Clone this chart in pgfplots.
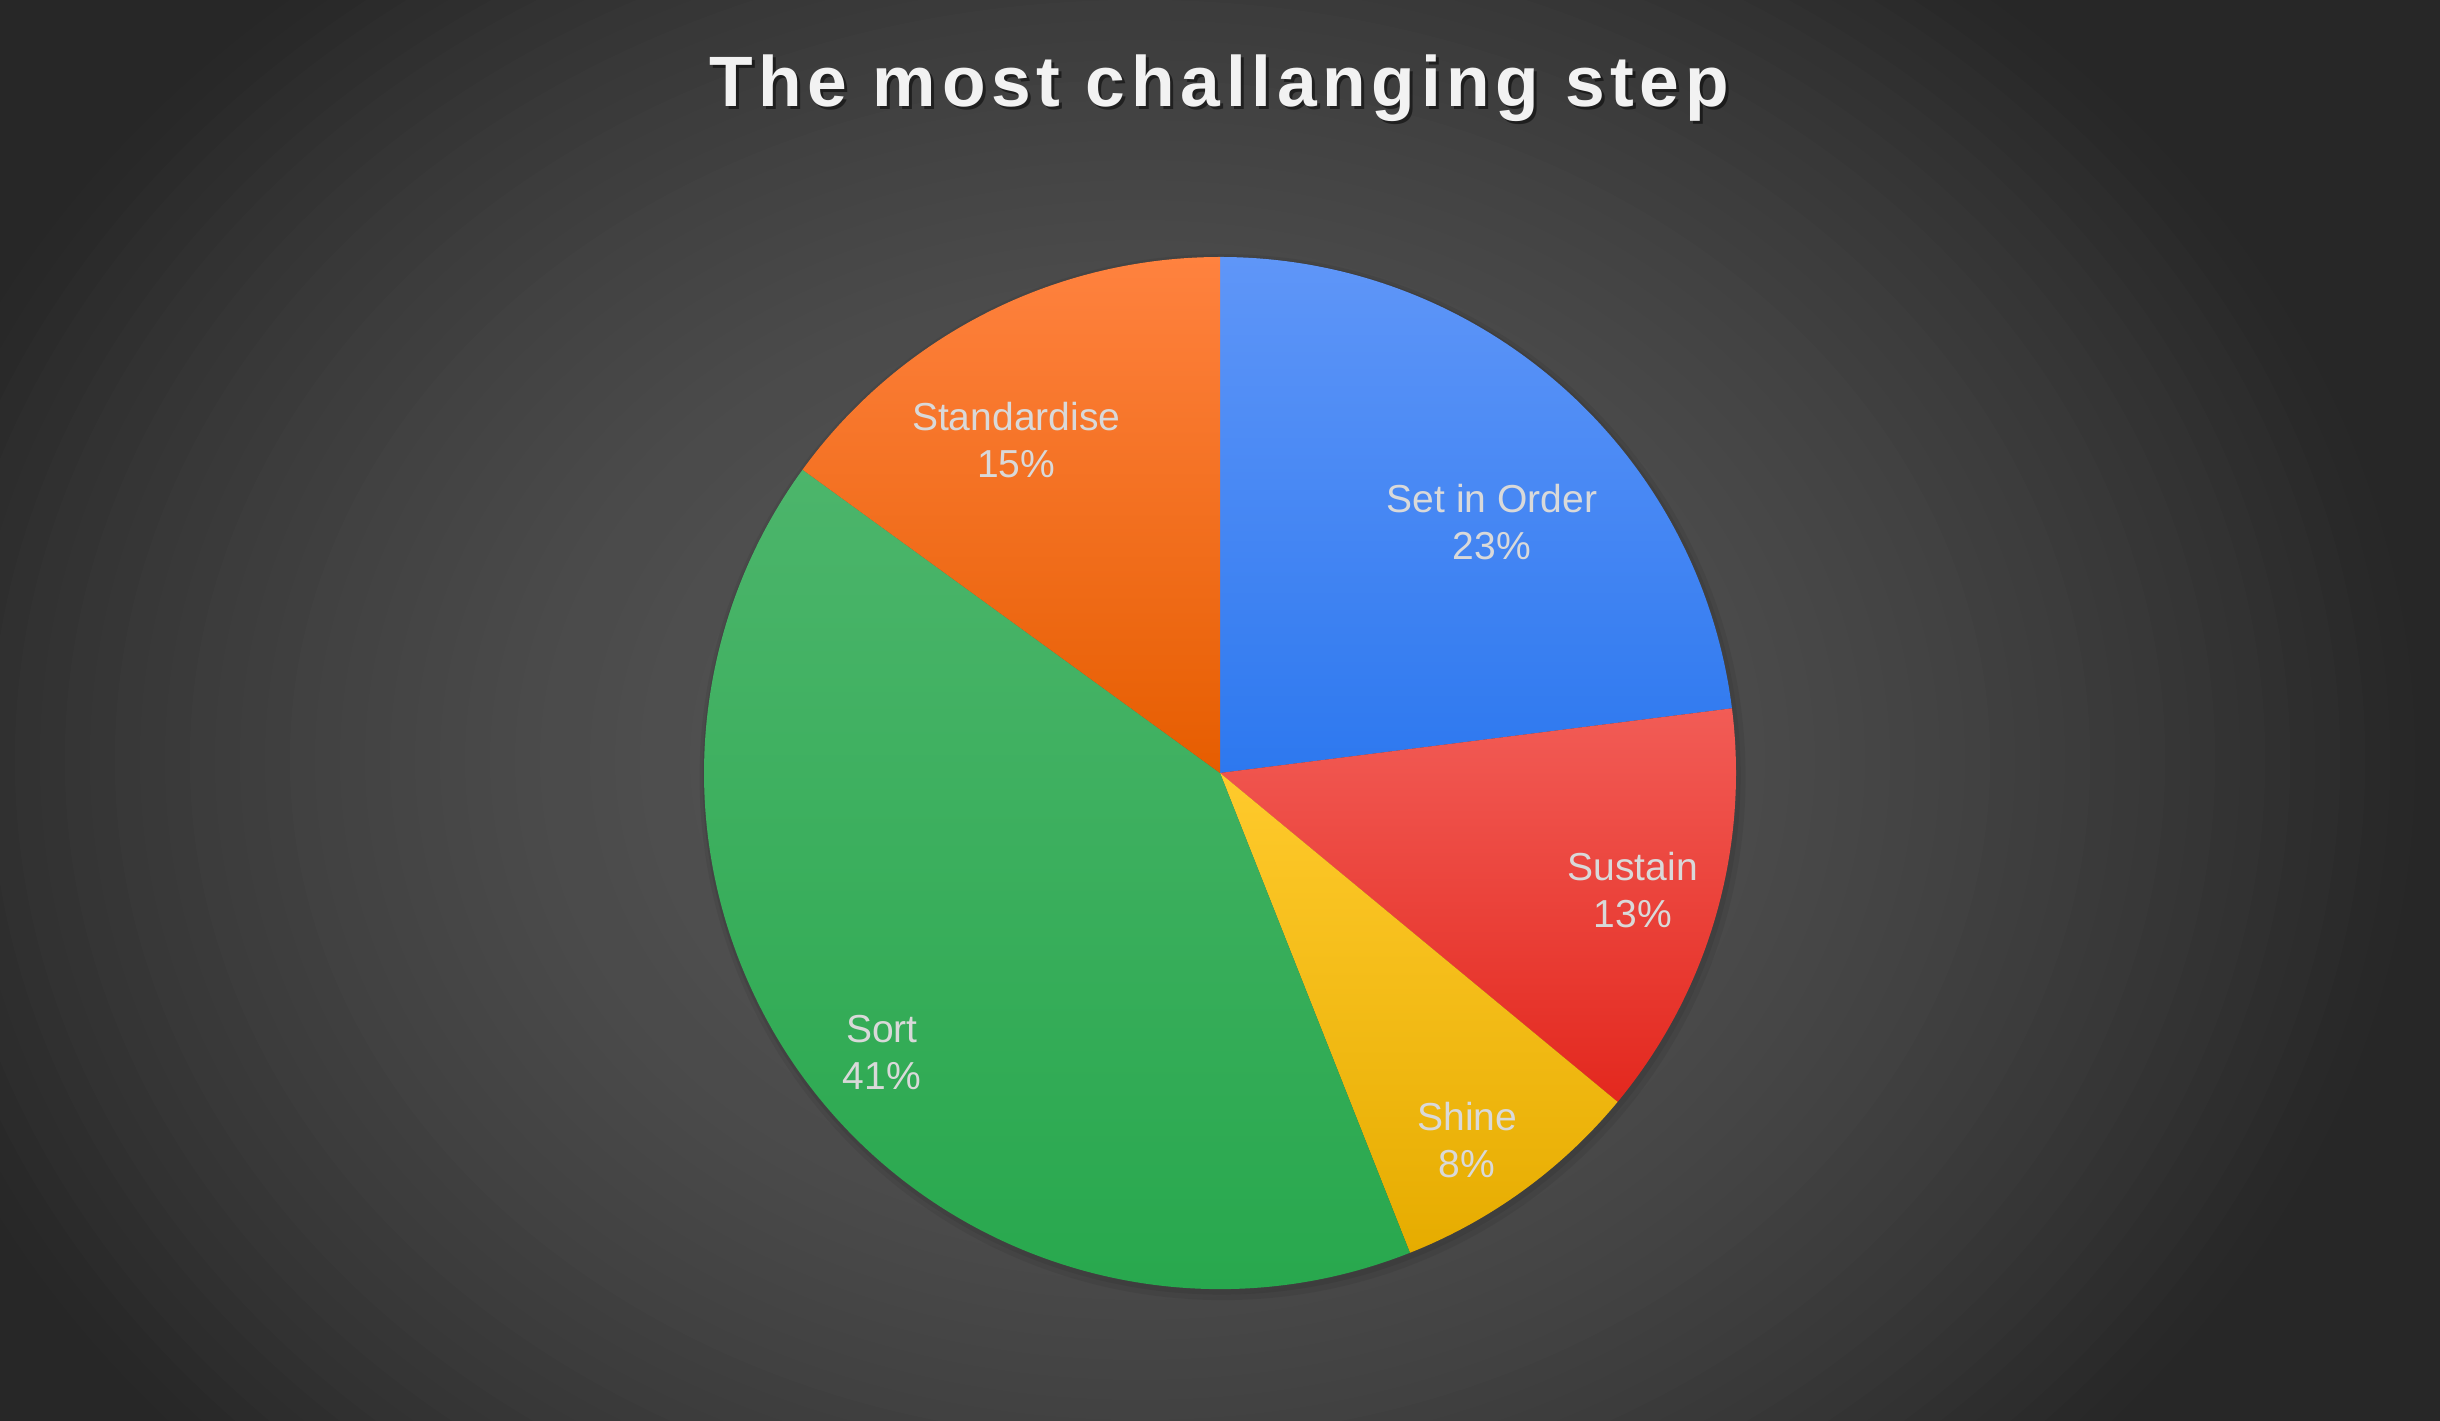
\documentclass[border=0pt]{standalone}
\usepackage{pgfplots}
\pgfplotsset{compat=1.18}
\usepackage{pgfplotstable}
\usepackage{fontspec}
\setmainfont{Liberation Sans}
\newfontfamily\titlefont[LetterSpace=8]{Liberation Sans}

\definecolor{top0}{HTML}{5F96F8}\definecolor{bot0}{HTML}{2D78EF}
\definecolor{top1}{HTML}{F25C56}\definecolor{bot1}{HTML}{E3281E}
\definecolor{top2}{HTML}{FFCA2C}\definecolor{bot2}{HTML}{E6AC00}
\definecolor{top3}{HTML}{4CB56B}\definecolor{bot3}{HTML}{25A74B}
\definecolor{top4}{HTML}{FF823F}\definecolor{bot4}{HTML}{E65D00}
\definecolor{labtext}{HTML}{D9D9D9}
\definecolor{titletext}{HTML}{F2F2F2}
\definecolor{bgdark}{HTML}{272727}

% slice values (percent) and label positions (in units of the radius)
\pgfplotstableread{
name            value  lx      ly
{Set in Order}  23     0.527   0.486
{Sustain}       13     0.800  -0.227
{Shine}         8      0.479  -0.711
{Sort}          41    -0.655  -0.541
{Standardise}   15    -0.395   0.645
}\piedata

\def\R{5.16cm}
\gdef\cumang{90}
\gdef\slicecmds{}
\gdef\labelcmds{}
\pgfplotsforeachungrouped \i in {0,...,4}{%
  \pgfplotstablegetelem{\i}{value}\of\piedata \let\v\pgfplotsretval
  \pgfplotstablegetelem{\i}{name}\of\piedata \let\nm\pgfplotsretval
  \pgfplotstablegetelem{\i}{lx}\of\piedata \let\lx\pgfplotsretval
  \pgfplotstablegetelem{\i}{ly}\of\piedata \let\ly\pgfplotsretval
  \pgfmathsetmacro\endang{\cumang-3.6*\v}%
  \xdef\slicecmds{\unexpanded\expandafter{\slicecmds}%
    \noexpand\shade[top color=top\i, bottom color=bot\i]
      (axis cs:0,0) -- ++(\cumang:\R) arc[start angle=\cumang, end angle=\endang, radius=\R] -- cycle;}%
  \xdef\labelcmds{\unexpanded\expandafter{\labelcmds}%
    \noexpand\node[align=center, text=labtext, font=\noexpand\fontsize{11.1}{13.4}\noexpand\selectfont]
      at (axis cs:\lx,\ly) {\nm\noexpand\\\v\noexpand\%};}%
  \xdef\cumang{\endang}%
}

\begin{document}
\begin{tikzpicture}
\useasboundingbox (0,0) rectangle (24.4cm,14.2cm);
\begin{scope}
\clip (0,0) rectangle (24.4cm,14.2cm);
\fill[bgdark] (0,0) rectangle (24.4cm,14.2cm);
\foreach \k in {75,...,1}{%
  \pgfmathsetmacro\rr{\k*0.02}%
  \pgfmathtruncatemacro\L{max(39,85-43*\rr*\rr)}%
  \definecolor{bgtmp}{RGB}{\L,\L,\L}%
  \fill[bgtmp] (11.4cm,6.6cm) ellipse[x radius=12.5cm*\rr, y radius=10cm*\rr];
}
\end{scope}
\node[anchor=base, text=black, opacity=0.5, font=\titlefont\fontsize{20.3}{24}\selectfont\bfseries]
  at (12.22cm,13.10cm) {The most challanging step};
\node[anchor=base, text=titletext, font=\titlefont\fontsize{20.3}{24}\selectfont\bfseries]
  at (12.19cm,13.13cm) {The most challanging step};
\begin{axis}[
  hide axis, scale only axis, clip=false,
  width=10.32cm, height=10.32cm,
  xmin=-1, xmax=1, ymin=-1, ymax=1,
  at={(12.20cm,6.47cm)}, anchor=center,
]
\fill[black, opacity=0.06] (axis cs:0.005,-0.008) circle[radius=5.23cm];
\fill[black, opacity=0.07] (axis cs:0.003,-0.005) circle[radius=5.19cm];
\slicecmds
\labelcmds
\end{axis}
\end{tikzpicture}
\end{document}
